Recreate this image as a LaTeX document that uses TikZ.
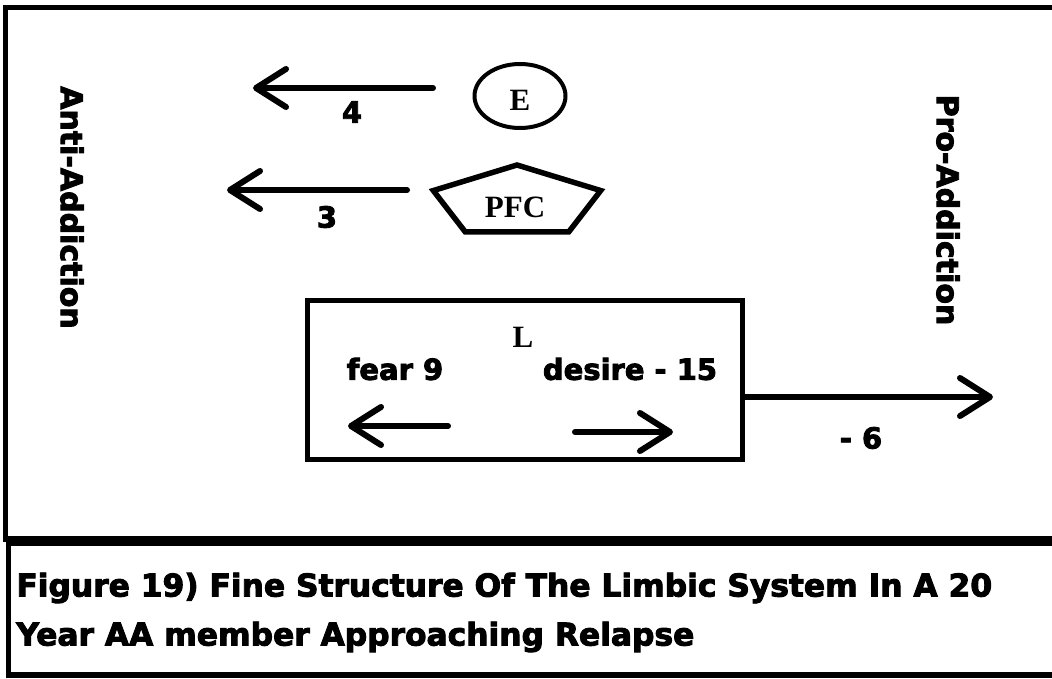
\documentclass[tikz,border=0pt]{standalone}
\usepackage{fontspec}
\setmainfont{Liberation Serif}
\newfontfamily\heavy{DejaVu Sans Bold}[FakeBold=3]
\usetikzlibrary{arrows.meta,shapes.geometric}

\tikzset{
  frame/.style={line width=5.5pt},
  pointer/.style={line width=6pt,line cap=round,-{Straight Barb[length=30pt,width=38pt,round]}},
  num/.style={font=\heavy\fontsize{29}{29}\selectfont,inner sep=0pt},
  side/.style={font=\heavy\fontsize{30}{30}\selectfont,rotate=-90,inner sep=0pt},
  region/.style={font=\bfseries\fontsize{31}{31}\selectfont,inner sep=0pt},
  caption/.style={font=\heavy\fontsize{31.3}{31.3}\selectfont,inner sep=0pt,anchor=west}
}

\begin{document}
\begin{tikzpicture}[x=1pt,y=-1pt,thick]
\useasboundingbox (0,0) rectangle (1052,679);
% frames
\draw[frame] (1060,7.5) -- (5.5,7.5) -- (5.5,539) -- (1060,539);
\draw[frame] (1060,543) -- (8.5,543) -- (8.5,675) -- (1060,675);
\node[side] (anti) at (72,207.5) {Anti-Addiction};
\node[side] (pro) at (948,210) {Pro-Addiction};
% E and PFC
\node[ellipse,draw,line width=4pt,minimum width=91,minimum height=64,region,
  text height=30pt,text depth=0pt] (E) at (520,96) {E};
\node[region] (PFC) at (515,207) {PFC};
\draw[frame,shift={(517,202)}] (-90:88 and 37) -- (-18:88 and 37) -- (54:88 and 37)
  -- (126:88 and 37) -- (198:88 and 37) -- cycle;
\coordinate (e-tail) at (433,88);
\coordinate (e-tip) at (253,88);
\coordinate (pfc-tail) at (407,190);
\coordinate (pfc-tip) at (227,190);
\draw[pointer] (e-tail) -- (e-tip);
\draw[pointer] (pfc-tail) -- (pfc-tip);
\node[num] (four) at (352,112) {4};
\node[num] (three) at (327,217) {3};
% limbic box
\node[draw,line width=5pt,minimum width=435,minimum height=159] (limbic) at (525,380) {};
\node[region] (L) at (523,337) {L};
\node[num] (fear) at (395,369) {fear 9};
\node[num] (desire) at (630,369) {desire - 15};
\coordinate (fear-tail) at (448,426);
\coordinate (fear-tip) at (348,426);
\coordinate (desire-tail) at (575,432);
\coordinate (desire-tip) at (673,432);
\draw[pointer] (fear-tail) -- (fear-tip);
\draw[pointer] (desire-tail) -- (desire-tip);
\coordinate (out-tip) at (993,397);
\draw[pointer] (limbic.east |- out-tip) -- (out-tip);
\node[num] (six) at (861,438) {- 6};
% caption
\node[caption] (cap1) at (16,588) {Figure 19) Fine Structure Of The Limbic System In A 20};
\node[caption] (cap2) at (16,637) {Year AA member Approaching Relapse};
\end{tikzpicture}
\end{document}
